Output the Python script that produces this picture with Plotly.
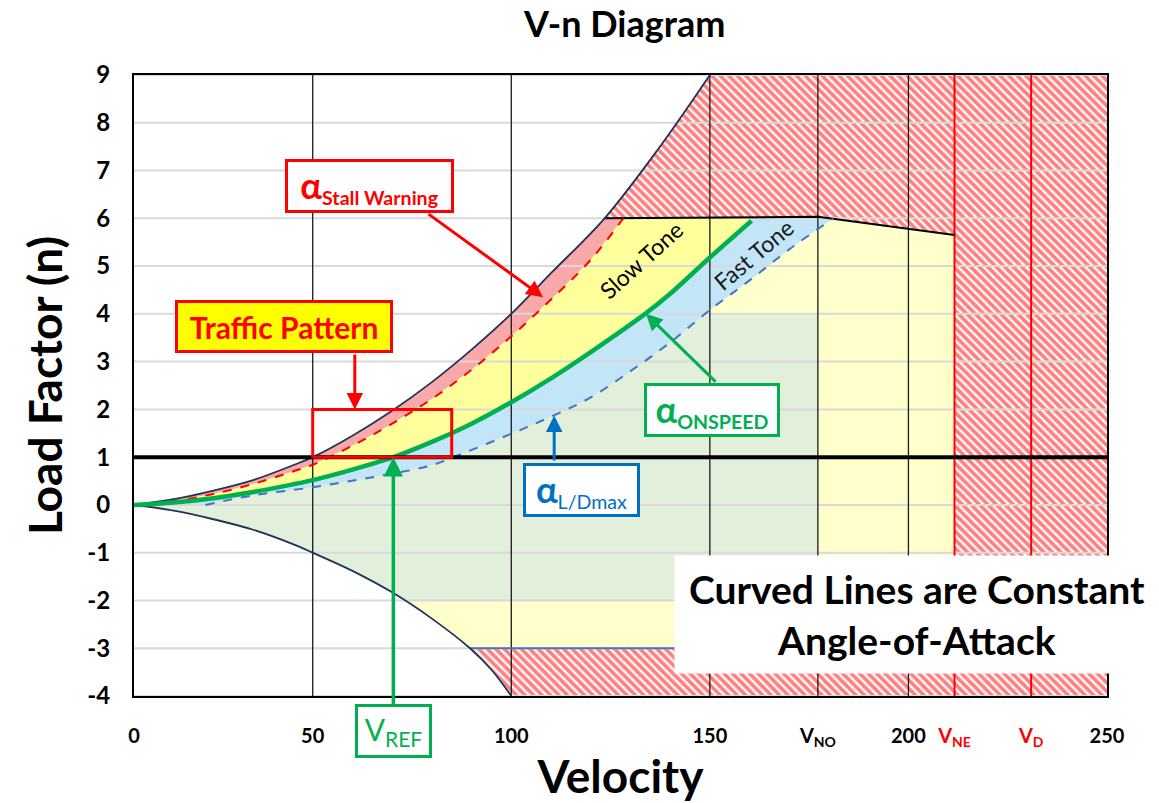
import plotly.graph_objects as go

# ---------------- data ----------------
# positive stall boundary (max lift)
STALL_V = [5, 15, 25, 35, 45, 50, 60, 70, 80, 90, 100, 110, 123.5, 137, 150]
STALL_N = [0, 0.12, 0.3, 0.52, 0.83, 1.0, 1.45, 1.97, 2.57, 3.25, 4.0, 4.85, 6.0, 7.45, 9.0]
# stall warning alpha (red dashed)
WARN_V = [5, 15, 25, 35, 45, 50, 60, 70, 80, 90, 100, 110, 120, 128.2]
WARN_N = [0, 0.08, 0.23, 0.44, 0.7, 0.84, 1.24, 1.7, 2.22, 2.83, 3.53, 4.3, 5.13, 6.0]
# onspeed alpha (green)
ONSP_V = [5, 15, 25, 35, 45, 50, 60, 70.3, 80, 90, 100, 110, 120, 133.7, 140, 150, 160.5]
ONSP_N = [0, 0.05, 0.14, 0.27, 0.43, 0.52, 0.74, 1.0, 1.32, 1.7, 2.15, 2.65, 3.2, 4.0, 4.42, 5.18, 5.95]
# L/D max alpha (blue dashed)
LD_V = [23, 35, 50, 65, 79.5, 85.4, 100, 110.6, 120, 130, 140, 150, 160, 170, 181.1]
LD_N = [0, 0.2, 0.37, 0.58, 0.82, 1.0, 1.49, 1.87, 2.25, 2.8, 3.4, 4.08, 4.7, 5.35, 6.0]
# negative stall boundary
NEG_V = [5, 15, 25, 35, 45, 50, 60, 70, 80, 89.6, 95, 100]
NEG_N = [0, -0.12, -0.3, -0.52, -0.82, -1.0, -1.38, -1.83, -2.38, -3.0, -3.45, -4.0]

# envelope values
N_MAX = 6.0
N_MIN = -3.0
N_NORM_MAX = 4.0
N_NORM_MIN = -2.0
V_NO = 177.2
V_NE = 211.6
V_D = 230.9
N_AT_VNO = 6.03
N_AT_VNE = 5.65
V_STALL_NMAX = 123.5
V_WARN_NMAX = 128.2
V_LD_N4 = 148.8
V_NEG_NMIN = 89.6
V_NEG_NNORM = 73.0
V_REF = 70.3
V_MIN_AX, V_MAX_AX = 5, 250
N_MIN_AX, N_MAX_AX = -4, 9

H_GRID = list(range(-4, 10))
H_TICKTEXT = [str(n) for n in H_GRID]
V_GRID = [50, 100, 150, V_NO, 200]

X_TICKS = [5, 50, 100, 150, V_NO, 200, V_NE, V_D, 250]
X_TICKTEXT = ["0", "50", "100", "150", "V<sub>NO</sub>", "200",
              "<span style='color:#FF0000'>V<sub>NE</sub></span>",
              "<span style='color:#FF0000'>V<sub>D</sub></span>", "250"]

# traffic-pattern box
TP_V = (50, 85)
TP_N = (1, 2)

FONT = "Lato"

fig = go.Figure()

def poly(xs, ys, color, **kw):
    fig.add_trace(go.Scatter(x=xs, y=ys, mode="lines", fill="toself", fillcolor=color,
                             line=dict(width=0), hoverinfo="skip", showlegend=False, **kw))

# light-yellow whole envelope
sv = [v for v in STALL_V if v <= V_STALL_NMAX]
sn = STALL_N[:len(sv)]
neg_env = [(v, n) for v, n in zip(NEG_V[::-1], NEG_N[::-1]) if v <= V_NEG_NMIN]
env_x = sv + [V_NO, V_NE, V_NE] + [p[0] for p in neg_env]
env_y = sn + [N_AT_VNO, N_AT_VNE, N_MIN] + [p[1] for p in neg_env]
poly(env_x, env_y, "#FFFFCC")

# green normal range
ldv = [v for v in LD_V if v <= V_LD_N4]
ldn = LD_N[:len(ldv)]
neg_sel = [(v, n) for v, n in zip(NEG_V[::-1], NEG_N[::-1]) if v <= V_NEG_NNORM]
g_x = [V_MIN_AX] + ldv + [V_LD_N4, V_NO, V_NO, V_NEG_NNORM] + [p[0] for p in neg_sel]
g_y = [0] + ldn + [N_NORM_MAX, N_NORM_MAX, N_NORM_MIN, N_NORM_MIN] + [p[1] for p in neg_sel]
poly(g_x, g_y, "#E2EFDA")

# red hatched area
st_hi = [(v, n) for v, n in zip(STALL_V, STALL_N) if v >= V_STALL_NMAX]
neg_lo = [(v, n) for v, n in zip(NEG_V[::-1], NEG_N[::-1]) if v >= V_NEG_NMIN]
h_x = [p[0] for p in st_hi] + [V_MAX_AX, V_MAX_AX] + [p[0] for p in neg_lo] + [V_NE, V_NE, V_NO, V_STALL_NMAX]
h_y = [p[1] for p in st_hi] + [N_MAX_AX, N_MIN_AX] + [p[1] for p in neg_lo] + [N_MIN, N_AT_VNE, N_AT_VNO, N_MAX]
fig.add_trace(go.Scatter(x=h_x, y=h_y, mode="lines", fill="toself", fillcolor="white",
                         fillpattern=dict(shape="\\", fgcolor="#FF0000", bgcolor="white",
                                          size=6, solidity=0.62),
                         line=dict(width=0), hoverinfo="skip", showlegend=False))

# pink band (stall -> stall warning)
poly(sv + [V_WARN_NMAX] + WARN_V[::-1], sn + [N_MAX] + WARN_N[::-1], "#F9A9A9")
# bright yellow band (warning -> onspeed) "Slow Tone"
poly(WARN_V + [ONSP_V[-1]] + ONSP_V[::-1], WARN_N + [N_MAX] + ONSP_N[::-1], "#FFFF9C")
# light blue band (onspeed -> L/D max) "Fast Tone"
poly(ONSP_V + [ONSP_V[-1]] + LD_V[::-1] + [V_MIN_AX],
     ONSP_N + [N_MAX] + LD_N[::-1] + [0], "#C2E5F8")

# grid lines drawn over fills
gx, gy = [], []
for n in H_GRID:
    gx += [V_MIN_AX, V_MAX_AX, None]
    gy += [n, n, None]
fig.add_trace(go.Scatter(x=gx, y=gy, mode="lines", line=dict(color="#D9D9D9", width=2),
                         hoverinfo="skip", showlegend=False))
vx, vy = [], []
for v in V_GRID:
    vx += [v, v, None]
    vy += [N_MIN_AX, N_MAX_AX, None]
fig.add_trace(go.Scatter(x=vx, y=vy, mode="lines", line=dict(color="#1a1a1a", width=1.3),
                         hoverinfo="skip", showlegend=False))
rx, ry = [], []
for v in [V_NE, V_D]:
    rx += [v, v, None]
    ry += [N_MIN_AX, N_MAX_AX, None]
fig.add_trace(go.Scatter(x=rx, y=ry, mode="lines", line=dict(color="#FF0000", width=2),
                         hoverinfo="skip", showlegend=False))

# envelope top line and negative limit line
fig.add_trace(go.Scatter(x=[V_STALL_NMAX, V_NO, V_NE], y=[N_MAX, N_AT_VNO, N_AT_VNE], mode="lines",
                         line=dict(color="black", width=2), hoverinfo="skip", showlegend=False))
fig.add_trace(go.Scatter(x=[V_NEG_NMIN, V_NE], y=[N_MIN, N_MIN], mode="lines",
                         line=dict(color="#4472C4", width=2), hoverinfo="skip", showlegend=False))

# curves
fig.add_trace(go.Scatter(x=STALL_V, y=STALL_N, mode="lines", line=dict(color="#1F3458", width=1.8, shape="spline"),
                         hoverinfo="skip", showlegend=False))
fig.add_trace(go.Scatter(x=NEG_V, y=NEG_N, mode="lines", line=dict(color="#1F3458", width=1.8, shape="spline"),
                         hoverinfo="skip", showlegend=False))
fig.add_trace(go.Scatter(x=WARN_V, y=WARN_N, mode="lines",
                         line=dict(color="#FF0000", width=2, dash="dash", shape="spline"),
                         hoverinfo="skip", showlegend=False))
fig.add_trace(go.Scatter(x=LD_V, y=LD_N, mode="lines",
                         line=dict(color="#4472C4", width=2, dash="dash", shape="spline"),
                         hoverinfo="skip", showlegend=False))
fig.add_trace(go.Scatter(x=ONSP_V, y=ONSP_N, mode="lines",
                         line=dict(color="#00B050", width=4.5, shape="spline"),
                         hoverinfo="skip", showlegend=False))

# 1-g line
fig.add_trace(go.Scatter(x=[V_MIN_AX, V_MAX_AX], y=[1, 1], mode="lines",
                         line=dict(color="black", width=4), hoverinfo="skip", showlegend=False))

# traffic-pattern rectangle
fig.add_trace(go.Scatter(x=[TP_V[0], TP_V[1], TP_V[1], TP_V[0], TP_V[0]],
                         y=[TP_N[0], TP_N[0], TP_N[1], TP_N[1], TP_N[0]], mode="lines",
                         line=dict(color="#FF0000", width=3), hoverinfo="skip", showlegend=False))

ann = []
def arrow(x, y, ax, ay, color, **kw):
    d = dict(x=x, y=y, ax=ax, ay=ay, xref="x", yref="y", axref="x", ayref="y", text="",
             showarrow=True, arrowhead=2, arrowsize=1.1, arrowwidth=3, arrowcolor=color, standoff=0)
    d.update(kw)
    ann.append(d)

def box(x, y, text, color, w, h, size=24, bg="white", xref="x", yref="y", border=3):
    ann.append(dict(x=x, y=y, xref=xref, yref=yref, text=text, showarrow=False,
                    xanchor="center", yanchor="middle",
                    font=dict(family=FONT, size=size, color=color),
                    bgcolor=bg, bordercolor=color, borderwidth=border, borderpad=0,
                    width=w, height=h, align="center", valign="middle"))

arrow(108.0, 4.35, 78.8, 6.11, "#FF0000")
arrow(60.6, TP_N[1], 60.6, 3.18, "#FF0000")
arrow(133.9, 4.0, 151.8, 2.55, "#00B050")
arrow(110.8, 1.87, 110.8, 0.9, "#0070C0")
ann.append(dict(x=V_REF, y=1, xref="x", yref="y", ax=0, ay=250, text="", showarrow=True,
                arrowhead=2, arrowsize=1.1, arrowwidth=3.5, arrowcolor="#00B050", standoff=0))

box(64.3, 6.68, "<b><span style='font-size:36px'>α</span><sub>Stall Warning</sub></b>", "#FF0000", 163, 48, size=28)
box(42.8, 3.74, "<b>Traffic Pattern</b>", "#FF0000", 212, 47, size=30, bg="#FFFF00")
box(150.6, 1.99, "<b><span style='font-size:36px'>α</span><sub>ONSPEED</sub></b>", "#00B050", 130, 48, size=28)
box(117.7, 0.31, "<b><span style='font-size:36px'>α</span></b><sub>L/Dmax</sub>", "#0070C0", 111, 48, size=28)
box(V_REF, -0.0564, "V<sub>REF</sub>", "#00B050", 71, 48, size=30, yref="paper")

ann.append(dict(x=132.6, y=5.13, xref="x", yref="y", text="Slow Tone", showarrow=False,
                textangle=-42, font=dict(family=FONT, size=23, color="black")))
ann.append(dict(x=161.1, y=5.25, xref="x", yref="y", text="Fast Tone", showarrow=False,
                textangle=-40, font=dict(family=FONT, size=23, color="#1a1a1a")))

ann.append(dict(x=0.8047, y=0.131, xref="paper", yref="paper", xanchor="center", yanchor="middle",
                text="<b>Curved Lines are Constant<br>Angle-of-Attack</b>", showarrow=False,
                font=dict(family=FONT, size=39, color="black"), bgcolor="white",
                width=484, height=117, borderpad=0, align="center"))

fig.update_layout(
    width=1159, height=803,
    margin=dict(l=134, r=52, t=75, b=107),
    paper_bgcolor="white", plot_bgcolor="white",
    title=dict(text="<b>V-n Diagram</b>", x=0.539, xref="container", y=0.969, yref="container",
               xanchor="center", yanchor="middle", font=dict(family=FONT, size=36, color="black")),
    annotations=ann,
    showlegend=False,
)
fig.update_xaxes(range=[V_MIN_AX, V_MAX_AX], tickvals=X_TICKS, ticktext=X_TICKTEXT,
                 showgrid=False, zeroline=False, showline=True, mirror=True, linecolor="black",
                 linewidth=2, ticks="", ticklabelstandoff=21, automargin=False,
                 tickfont=dict(family=FONT, size=20, color="black", weight="bold"),
                 title=dict(text="<b>Velocity</b>", font=dict(family=FONT, size=46, color="black"),
                            standoff=20))
fig.update_yaxes(range=[N_MIN_AX, N_MAX_AX], tickvals=H_GRID, ticktext=H_TICKTEXT, showgrid=False,
                 zeroline=False, automargin=False,
                 showline=True, mirror=True, linecolor="black", linewidth=2, ticks="",
                 ticklabelstandoff=17,
                 tickfont=dict(family=FONT, size=24, color="black", weight="bold"),
                 title=dict(text="<b>Load Factor (n)</b>", font=dict(family=FONT, size=46, color="black"),
                            standoff=10))

fig.write_html("out.html", post_script="document.body.style.margin='0';",
               config={"displayModeBar": False})
